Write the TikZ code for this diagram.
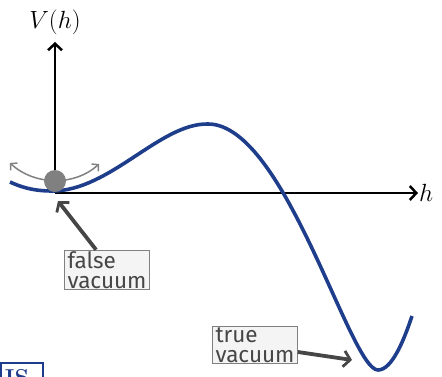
\documentclass[tikz,border=0pt]{standalone}
\usepackage{fontspec}
\setsansfont{Fira Sans}
\usetikzlibrary{arrows.meta}
\definecolor{curveblue}{RGB}{30,62,140}
\definecolor{labelgray}{RGB}{70,70,70}
\definecolor{logoblue}{RGB}{30,60,140}
\tikzset{
    axis/.style={line width=2.7pt, -{Straight Barb[length=6.5pt,width=14pt,line width=2.5pt]}},
    potential/.style={curveblue, line width=3.6pt},
    swing/.style={gray, line width=1.5pt, {Straight Barb[length=4.5pt,width=10pt,line width=1.5pt]}-{Straight Barb[length=4.5pt,width=10pt,line width=1.5pt]}},
    vacbox/.style={draw=gray, fill=gray!9, text=labelgray, line width=0.9pt, align=left,
        font=\sffamily\fontsize{22.5}{19.5}\selectfont, inner xsep=3pt, inner ysep=1.5pt},
    pointer/.style={draw=labelgray, line width=3.8pt, -{Straight Barb[length=6.5pt,width=16pt,line width=2.8pt]}},
}
\begin{document}
\begin{tikzpicture}[x=1pt,y=-1pt]
    \useasboundingbox (0,0) rectangle (442,376);

    % axes
    \coordinate (O) at (55,193);
    \coordinate (ytip) at (55,42);
    \coordinate (xtip) at (418,193);
    \draw[axis] (O) -- (ytip);
    \draw[axis] (O) -- (xtip);
    \node[font=\fontsize{24}{24}\selectfont] (Vlabel) at (55,22) {$V(h)$};
    \node[anchor=west, inner sep=1pt, font=\fontsize{24}{24}\selectfont] (hlabel) at (xtip) {$h$};

    % potential
    \draw[potential] (10,182) .. controls (25,189) and (38,191) .. (52,191)
        .. controls (110,191) and (160,123) .. (208,124)
        .. controls (285,124) and (350,370) .. (378,370)
        .. controls (392,370) and (404,340) .. (412,316);

    % ball in the false vacuum
    \coordinate (swingL) at (10,163);
    \coordinate (swingR) at (99,164);
    \draw[swing] (swingL) .. controls (35,186) and (75,186) .. (swingR);
    \node[circle, fill=gray, minimum size=22pt, inner sep=0pt] (ball) at (55,181) {};

    % labels
    \node[vacbox] (falsevac) at (107,270) {false\\vacuum};
    \coordinate (fvtip) at (58,201);
    \draw[pointer] ([xshift=32pt]falsevac.north west) -- (fvtip);

    \node[vacbox] (truevac) at (255,345) {true\\vacuum};
    \coordinate (tvtip) at (352,360);
    \draw[pointer] ([yshift=-7pt]truevac.east) -- (tvtip);

    % logo corner
    \begin{scope}
        \clip (0,0) rectangle (442,376);
        \draw[logoblue, line width=1.6pt] (0.8,363) rectangle (43,400);
        \node[anchor=north, inner sep=0pt, text=logoblue, font=\bfseries\fontsize{23}{23}\selectfont] (logo) at (17,369) {IS};
    \end{scope}
\end{tikzpicture}
\end{document}
